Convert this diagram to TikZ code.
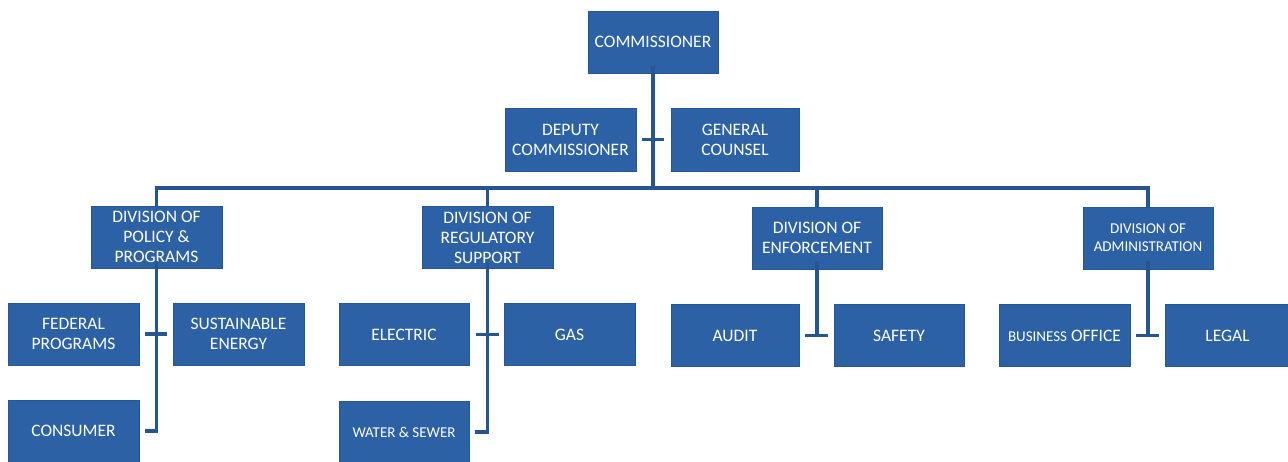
\documentclass[tikz,border=0pt]{standalone}
\usepackage{fontspec}
\setmainfont{Carlito}
\begin{document}
\definecolor{boxblue}{RGB}{44,98,165}
\definecolor{boxedge}{RGB}{38,86,148}
\definecolor{linkblue}{RGB}{38,85,145}
\begin{tikzpicture}[x=1pt,y=-1pt,
  box/.style={fill=boxblue, draw=boxedge, line width=0.8pt, text=white,
    align=center, inner sep=0pt, minimum width=130, minimum height=62,
    font=\fontsize{17.5}{20}\selectfont},
  smalltext/.style={font=\fontsize{15}{18}\selectfont},
  conn/.style={draw=linkblue, line width=3.5pt}]
\useasboundingbox (0,0) rectangle (1288,462);
\begin{scope}
\clip (0,0) rectangle (1288,462);

% top level
\node[box] (comm) at (653,42) {COMMISSIONER};
\node[box, minimum width=131, minimum height=63] (deputy) at (570.5,139.5) {DEPUTY\\COMMISSIONER};
\node[box, minimum width=128, minimum height=63] (counsel) at (735,139.5) {GENERAL\\COUNSEL};

% divisions
\node[box, minimum width=131] (policy) at (156.5,237) {DIVISION OF\\POLICY \&\\PROGRAMS};
\node[box, minimum width=131] (regul) at (487.5,237.5) {DIVISION OF\\REGULATORY\\SUPPORT};
\node[box] (enforce) at (817,238) {DIVISION OF\\ENFORCEMENT};
\node[box, smalltext] (admin) at (1148,238) {DIVISION OF\\ADMINISTRATION};

% units
\node[box, minimum width=131] (federal) at (73.5,334) {FEDERAL\\PROGRAMS};
\node[box, minimum width=131] (sustain) at (238.5,334) {SUSTAINABLE\\ENERGY};
\node[box, minimum width=131] (consumer) at (73.5,431) {CONSUMER};
\node[box] (electric) at (404,334.5) {ELECTRIC};
\node[box, minimum width=131] (gas) at (569.5,334.5) {GAS};
\node[box, smalltext] (water) at (404,432) {WATER \& SEWER};
\node[box, minimum width=128] (audit) at (735,335.5) {AUDIT};
\node[box] (safety) at (899,335.5) {SAFETY};
\node[box, minimum width=131] (business) at (1064.5,335.5)
  {{\fontsize{15}{18}\selectfont BUSINESS} OFFICE};
\node[box, minimum width=125] (legal) at (1227.5,335.5) {LEGAL};

% connectors
\coordinate (bar) at (653,188);
\draw[conn] ([yshift=7]comm.south) -- (bar);
\draw[conn] ([xshift=6]deputy.east) -- ([xshift=-7]counsel.west);
\draw[conn] (policy.north) |- (bar) -| (admin.north);
\draw[conn] (regul.north) -- (regul.north |- bar);
\draw[conn] (enforce.north) -- (enforce.north |- bar);

\draw[conn] ([yshift=7]policy.south) |- ([xshift=6]consumer.east);
\draw[conn] ([xshift=6]federal.east) -- ([xshift=-6]sustain.west);
\draw[conn] ([yshift=7]regul.south) |- ([xshift=6]water.east);
\draw[conn] ([xshift=7]electric.east) -- ([xshift=-5]gas.west);
\coordinate (enftick) at (817,335);
\draw[conn] ([yshift=8]enforce.south) -- (enftick);
\draw[conn] ([xshift=6]audit.east) -- ([xshift=-6]safety.west);
\coordinate (admtick) at (1148,335);
\draw[conn] ([yshift=8]admin.south) -- (admtick);
\draw[conn] ([xshift=6]business.east) -- ([xshift=-6]legal.west);
\end{scope}
\end{tikzpicture}
\end{document}
